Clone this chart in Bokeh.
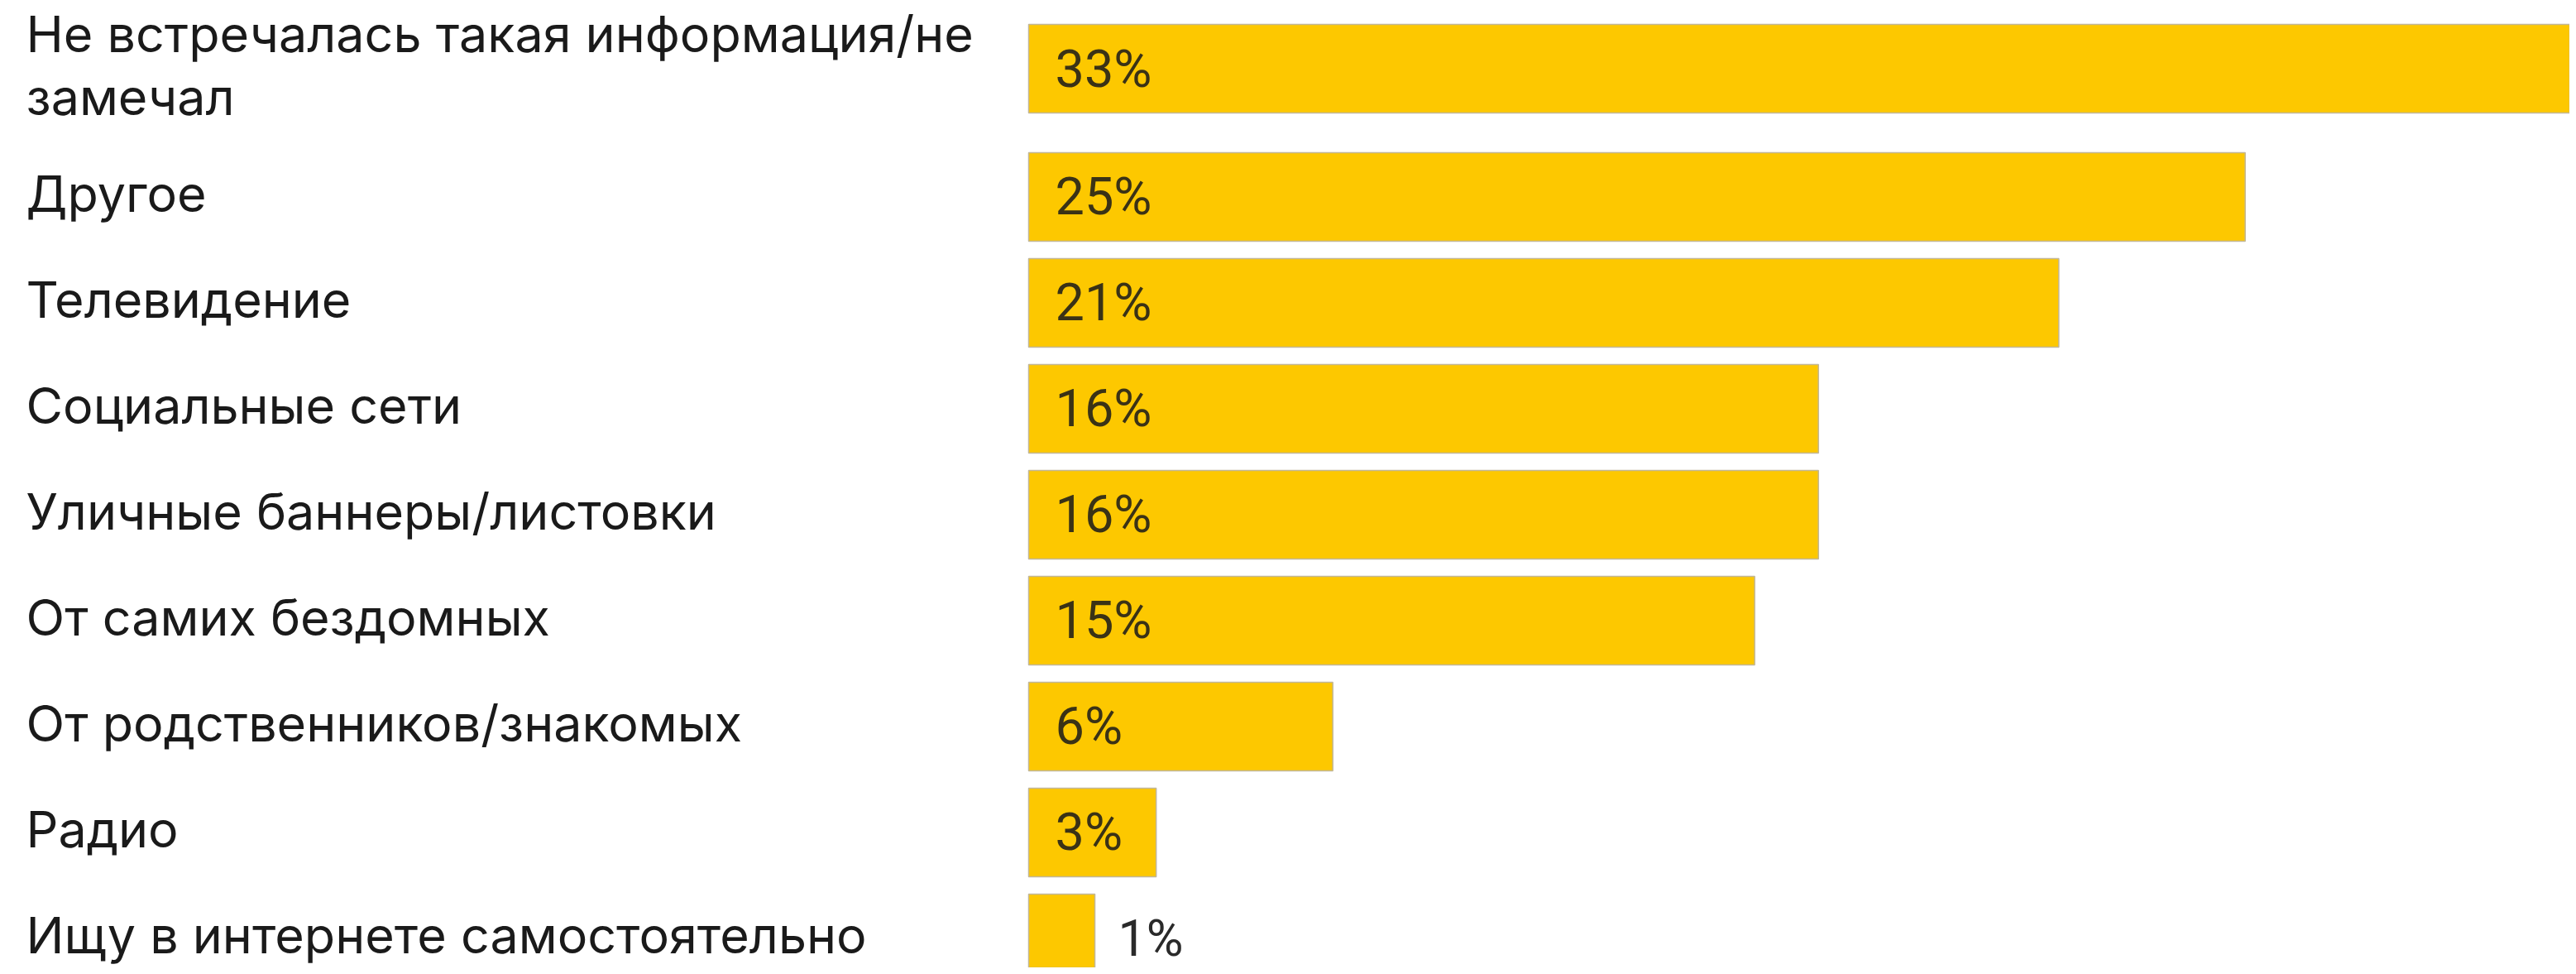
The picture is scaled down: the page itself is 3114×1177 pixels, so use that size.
from bokeh.plotting import figure
from bokeh.models import ColumnDataSource, Range1d
from bokeh.core.properties import value
from bokeh.embed import file_html
from bokeh.resources import INLINE

# ---- data ----
categories = [
    "Не встречалась такая информация/не\nзамечал",
    "Другое",
    "Телевидение",
    "Социальные сети",
    "Уличные баннеры/листовки",
    "От самих бездомных",
    "От родственников/знакомых",
    "Радио",
    "Ищу в интернете самостоятельно",
]
shares = [32.7, 24.8, 21.0, 16.1, 16.1, 14.8, 6.2, 2.6, 1.35]
share_labels = ["33%", "25%", "21%", "16%", "16%", "15%", "6%", "3%", "1%"]

# ---- layout (pixels) ----
W, H = 3106, 1169
BAR_LEFT_PX = 1243
PX_PER_UNIT = 59.3
ROW_PX = 128.0
FIRST_CENTER_PX = 82.5
FIRST_ROW_EXTRA = 0.21
LABEL_LEFT_PX = 31
INSIDE_PAD_PX = 32
OUTSIDE_PAD_PX = 28

# row positions (first row taller because its label wraps)
pos = []
acc = 0.0
for i in range(len(categories)):
    if i == 1:
        acc += 1.0 + FIRST_ROW_EXTRA
    elif i > 1:
        acc += 1.0
    pos.append(acc)

x0 = -BAR_LEFT_PX / PX_PER_UNIT
x1 = (W - BAR_LEFT_PX) / PX_PER_UNIT
ytop = -FIRST_CENTER_PX / ROW_PX
ybot = (H - FIRST_CENTER_PX) / ROW_PX

p = figure(width=W, height=H, x_range=Range1d(x0, x1), y_range=Range1d(ybot, ytop),
           output_backend="svg", toolbar_location=None, min_border=0,
           outline_line_color=None, background_fill_color="white")
p.axis.visible = False
p.grid.visible = False

src = ColumnDataSource(dict(y=pos, v=shares, cat=categories, lab=share_labels))
p.hbar(y="y", left=0, right="v", height=107 / ROW_PX, source=src,
       fill_color="#fdc800", line_color="#c2b798", line_width=1.5)

label_x = x0 + LABEL_LEFT_PX / PX_PER_UNIT
p.text(x=[label_x] * len(pos), y=pos, text=categories, text_align="left",
       text_baseline="middle", text_font=value("Inter"), y_offset=-4,
       text_font_size="61px", text_color="#1a1a1a", text_line_height=1.03)

inside_w = 110 / PX_PER_UNIT
in_x, in_y, in_t, out_x, out_y, out_t = [], [], [], [], [], []
for yy, vv, tt in zip(pos, shares, share_labels):
    if vv >= inside_w:
        in_x.append(INSIDE_PAD_PX / PX_PER_UNIT); in_y.append(yy); in_t.append(tt)
    else:
        out_x.append(vv + OUTSIDE_PAD_PX / PX_PER_UNIT); out_y.append(yy); out_t.append(tt)

p.text(x=in_x, y=in_y, text=in_t, text_align="left", text_baseline="middle",
       text_font=value("Roboto"), text_font_size="63px", text_color="#3a3216")
p.text(x=out_x, y=out_y, text=out_t, text_align="left", text_baseline="middle",
       text_font=value("Roboto"), text_font_size="61px", text_color="#2a2a2a")

open("out.html", "w").write(file_html(p, INLINE))
